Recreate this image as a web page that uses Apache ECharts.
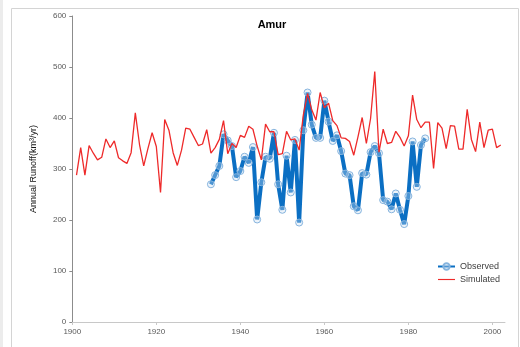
<!DOCTYPE html>
<html>
<head>
<meta charset="utf-8">
<script src="https://cdn.jsdelivr.net/npm/echarts@6/dist/echarts.min.js"></script>
<style>
  html, body { margin: 0; padding: 0; background: #fff; }
  #chart { width: 520px; height: 347px; }
</style>
</head>
<body>
<div id="chart"></div>
<script>
// Amur annual runoff, km³/yr
const simYears = [];
for (let y = 1901; y <= 2002; y++) simYears.push(y);
const simulated = [
  288, 342, 288, 346, 331, 318, 323, 359, 342, 355,
  322, 316, 311, 332, 410, 348, 306, 340, 371, 344,
  254, 397, 376, 332, 307, 337, 380, 378, 362, 346,
  349, 377, 331, 342, 358, 395, 330, 350, 342, 366,
  362, 384, 378, 345, 318, 388, 373, 373, 328, 330,
  374, 357, 359, 337, 406, 448, 416, 396, 450, 420,
  429, 395, 385, 361, 360, 354, 327, 363, 401, 350,
  399, 491, 333, 378, 350, 352, 374, 362, 345, 365,
  445, 397, 381, 392, 392, 301, 391, 380, 340, 385,
  384, 339, 339, 417, 358, 334, 392, 342, 376, 378,
  342, 347
];

const obsYears = [];
for (let y = 1933; y <= 1984; y++) obsYears.push(y);
const observed = [
  270, 288, 306, 368, 356, 345, 284, 296, 324, 312,
  343, 201, 274, 324, 320, 371, 270, 220, 326, 254,
  357, 195, 376, 450, 387, 361, 361, 434, 393, 355,
  366, 335, 291, 288, 227, 219, 292, 289, 333, 345,
  331, 239, 236, 221, 252, 220, 192, 247, 354, 265,
  347, 360
];

const xTicks = [1900, 1920, 1940, 1960, 1980, 2000];
const yTicks = [0, 100, 200, 300, 400, 500, 600];

const font = "'Liberation Sans', Arial, sans-serif";
const chart = echarts.init(document.getElementById('chart'), null, { renderer: 'canvas' });

chart.setOption({
  animation: false,
  backgroundColor: '#fff',
  textStyle: { fontFamily: font },
  graphic: [
    { type: 'rect', shape: { x: 0, y: 0, width: 3, height: 347 }, style: { fill: '#ececec' }, silent: true },
    { type: 'rect', shape: { x: 11.5, y: 8.5, width: 507, height: 340 }, style: { fill: 'none', stroke: '#d4d4d4', lineWidth: 1 }, silent: true }
  ],
  title: {
    text: 'Amur',
    left: 267, top: 14, textAlign: 'center',
    textStyle: { fontFamily: font, fontSize: 11, fontWeight: 'bold', color: '#000' }
  },
  legend: {
    orient: 'vertical',
    left: 432, top: 257,
    itemWidth: 17, itemHeight: 8, itemGap: 4,
    textStyle: { fontFamily: font, fontSize: 9, color: '#404040' },
    data: [
      { name: 'Observed' },
      { name: 'Simulated', icon: 'path://M0,0L24,0L24,1.6L0,1.6Z' }
    ]
  },
  grid: { left: 72.3, right: 15, top: 16, bottom: 25, containLabel: false },
  xAxis: {
    type: 'value',
    min: 1900, max: 2003, interval: 20,
    axisLine: { show: true, lineStyle: { color: '#c8c8c8', width: 1 } },
    axisTick: { show: true, inside: false, length: 3, lineStyle: { color: '#c8c8c8' }, customValues: xTicks },
    axisLabel: { fontFamily: font, fontSize: 8, color: '#595959', margin: 6, customValues: xTicks,
      formatter: v => (xTicks.indexOf(v) >= 0 ? String(v) : '') },
    splitLine: { show: false }
  },
  yAxis: {
    type: 'value',
    min: 0, max: 600, interval: 100,
    name: 'Annual Runoff(km³/yr)',
    nameLocation: 'middle', nameRotate: 90, nameGap: 34,
    nameTextStyle: { fontFamily: font, fontSize: 9, color: '#111' },
    axisLine: { show: true, lineStyle: { color: '#8c8c8c', width: 1 } },
    axisTick: { show: true, length: 3, lineStyle: { color: '#8c8c8c' } },
    axisLabel: { fontFamily: font, fontSize: 8, color: '#595959', margin: 6,
      formatter: v => (yTicks.indexOf(v) >= 0 ? String(v) : '') },
    splitLine: { show: false }
  },
  series: [
    {
      name: 'Observed',
      type: 'line',
      data: obsYears.map((y, i) => [y, observed[i]]),
      symbol: 'circle', symbolSize: 7, showSymbol: true,
      lineStyle: { color: '#0b6fc3', width: 4 },
      itemStyle: { color: 'rgba(200,222,242,0.35)', borderColor: '#86b4de', borderWidth: 1 },
      z: 2
    },
    {
      name: 'Simulated',
      type: 'line',
      data: simYears.map((y, i) => [y, simulated[i]]),
      symbol: 'none', showSymbol: false,
      lineStyle: { color: '#ee2a2a', width: 1.3 },
      itemStyle: { color: '#ee2a2a' },
      z: 3
    }
  ]
});
</script>
</body>
</html>
